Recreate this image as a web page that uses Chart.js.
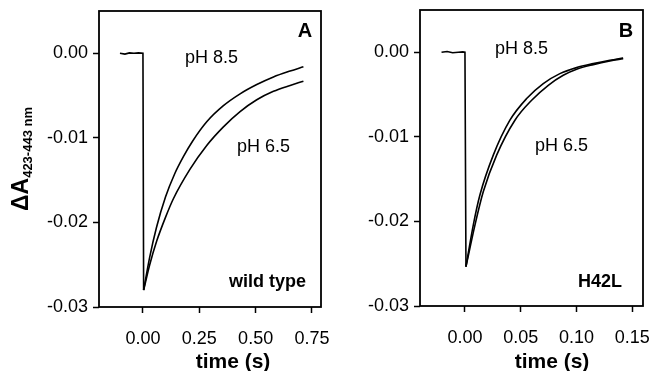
<!DOCTYPE html>
<html>
<head>
<meta charset="utf-8">
<script src="https://cdn.jsdelivr.net/npm/chart.js@4.4.0/dist/chart.umd.min.js"></script>
<style>
  html, body { margin: 0; padding: 0; background: #fff; }
  #wrap { position: relative; width: 652px; height: 371px; overflow: hidden; }
  .panel { position: absolute; top: 0; height: 371px; }
  #panelA { left: 0; width: 330px; }
  #panelB { left: 330px; width: 322px; }
</style>
</head>
<body>
<div id="wrap">
  <div class="panel" id="panelA"><canvas id="chartA"></canvas></div>
  <div class="panel" id="panelB"><canvas id="chartB"></canvas></div>
</div>
<script>
// ---- panel A (wild type), time in s ----
const triggerTimeA = [-0.102, -0.08, -0.06, -0.04, -0.02, 0.0, 0.003];
const triggerValA  = [0.0, -0.0001, 0.00005, 0.0, 0.00005, 0.0, -0.028];

const timeA85 = [0.003, 0.030, 0.060, 0.100, 0.140, 0.180, 0.220, 0.283, 0.357, 0.431, 0.505, 0.579, 0.653, 0.712];
const valA85  = [-0.0280, -0.0241, -0.0206, -0.0170, -0.0143, -0.0122, -0.0104, -0.0081, -0.0062, -0.0048, -0.0037, -0.0028, -0.0021, -0.0016];

const timeA65 = [0.003, 0.030, 0.061, 0.100, 0.135, 0.209, 0.283, 0.357, 0.431, 0.505, 0.579, 0.653, 0.712];
const valA65  = [-0.0280, -0.0250, -0.0222, -0.0194, -0.0172, -0.0137, -0.0109, -0.0087, -0.0069, -0.0055, -0.0045, -0.0038, -0.0033];

const xTicksA = [0, 0.25, 0.5, 0.75];

// ---- panel B (H42L) ----
const triggerTimeB = [-0.021, -0.016, -0.011, -0.006, -0.002, 0.0, 0.0009];
const triggerValB  = [0.0, 0.0001, -0.00005, 0.0, 0.00005, 0.0, -0.02535];

const timeB85 = [0.0009, 0.0075, 0.0134, 0.0254, 0.0403, 0.0553, 0.0702, 0.0851, 0.1001, 0.1150, 0.1299, 0.1418];
const valB85  = [-0.02535, -0.0204, -0.01688, -0.01216, -0.00803, -0.00547, -0.0037, -0.00252, -0.00181, -0.00134, -0.00094, -0.00067];

const timeB65 = [0.0009, 0.0090, 0.0164, 0.0284, 0.0448, 0.0598, 0.0747, 0.0881, 0.1001, 0.1150, 0.1299, 0.1418];
const valB65  = [-0.02535, -0.0204, -0.0165, -0.01216, -0.00803, -0.00567, -0.0039, -0.00272, -0.00201, -0.00146, -0.00102, -0.00075];

const xTicksB = [0, 0.05, 0.1, 0.15];
const yTicks = [0, -0.01, -0.02, -0.03];

const FONT = "'Liberation Sans', Arial, Helvetica, sans-serif";

function pts(xs, ys) {
  return xs.map((x, i) => ({ x: x, y: ys[i] }));
}

function lineSet(xs, ys, smooth) {
  return {
    data: pts(xs, ys),
    borderColor: "#000",
    borderWidth: 1.6,
    pointRadius: 0,
    fill: false,
    tension: 0,
    cubicInterpolationMode: smooth ? "monotone" : "default",
  };
}

// frame, annotations and the axis titles (y title has a subscript)
const panelDecor = {
  id: "panelDecor",
  afterDraw(chart, args, opts) {
    const ctx = chart.ctx;
    const a = chart.chartArea;
    const xs = chart.scales.x;
    const ys = chart.scales.y;
    ctx.save();
    ctx.strokeStyle = "#000";
    ctx.lineWidth = 1.8;
    ctx.strokeRect(a.left, a.top, a.right - a.left, a.bottom - a.top);

    ctx.fillStyle = "#000";
    ctx.textBaseline = "alphabetic";
    (opts.notes || []).forEach(n => {
      ctx.font = n.font + " " + FONT;
      ctx.textAlign = n.align;
      ctx.fillText(n.text, xs.getPixelForValue(n.x), ys.getPixelForValue(n.y));
    });

    // x title
    ctx.font = "bold 21px " + FONT;
    ctx.textAlign = "center";
    ctx.fillText("time (s)", opts.xTitleX, 368);

    if (opts.yTitle) {
      const cy = (a.top + a.bottom) / 2;
      ctx.translate(28, cy);
      ctx.rotate(-Math.PI / 2);
      ctx.textAlign = "left";
      ctx.font = "bold 23px " + FONT;
      const w1 = ctx.measureText("\u0394A").width;
      ctx.font = "bold 13px " + FONT;
      const w2 = ctx.measureText("423-443 nm").width;
      const start = -(w1 + w2) / 2;
      ctx.font = "bold 23px " + FONT;
      ctx.fillText("\u0394A", start, 0);
      ctx.font = "bold 13px " + FONT;
      ctx.fillText("423-443 nm", start + w1, 4);
    }
    ctx.restore();
  }
};

function makeChart(id, cfg) {
  return new Chart(document.getElementById(id), {
    type: "line",
    data: { datasets: cfg.datasets },
    plugins: [panelDecor],
    options: {
      responsive: true,
      maintainAspectRatio: false,
      animation: false,
      layout: { padding: { top: cfg.padTop, right: 9, left: 0, bottom: 0 } },
      plugins: {
        legend: { display: false },
        tooltip: { enabled: false },
        panelDecor: { notes: cfg.notes, xTitleX: cfg.xTitleX, yTitle: cfg.yTitle },
      },
      scales: {
        x: {
          type: "linear",
          min: cfg.xMin,
          max: cfg.xMax,
          afterBuildTicks: s => { s.ticks = cfg.xTicks.map(v => ({ value: v })); },
          afterFit: s => { s.height = cfg.xHeight; s.paddingLeft = 0; s.paddingRight = 0; },
          border: { display: false },
          grid: { drawOnChartArea: false, drawTicks: true, tickLength: 6, tickColor: "#000", tickWidth: 1.5 },
          ticks: {
            color: "#000",
            font: { family: FONT, size: 18 },
            padding: 15,
            maxRotation: 0,
            callback: v => v.toFixed(2),
          },
        },
        y: {
          type: "linear",
          min: -0.03,
          max: 0.005,
          afterBuildTicks: s => { s.ticks = yTicks.map(v => ({ value: v })); },
          afterFit: s => { s.width = cfg.yWidth; s.paddingTop = 0; s.paddingBottom = 0; },
          border: { display: false },
          grid: { drawOnChartArea: false, drawTicks: true, tickLength: 6, tickColor: "#000", tickWidth: 1.5 },
          ticks: {
            color: "#000",
            font: { family: FONT, size: 18 },
            padding: 5,
            callback: v => v.toFixed(2),
          },
        },
      },
    },
  });
}

makeChart("chartA", {
  datasets: [
    lineSet(triggerTimeA, triggerValA, false),
    lineSet(timeA85, valA85, true),
    lineSet(timeA65, valA65, true),
  ],
  xMin: -0.195, xMax: 0.79, xTicks: xTicksA,
  yWidth: 99, xHeight: 64, padTop: 11,
  xTitleX: 233, yTitle: true,
  notes: [
    { text: "A", x: 0.719, y: 0.0019, font: "bold 20px", align: "center" },
    { text: "pH 8.5", x: 0.187, y: -0.0011, font: "18px", align: "left" },
    { text: "pH 6.5", x: 0.417, y: -0.01165, font: "18px", align: "left" },
    { text: "wild type", x: 0.724, y: -0.0276, font: "bold 18px", align: "right" },
  ],
});

makeChart("chartB", {
  datasets: [
    lineSet(triggerTimeB, triggerValB, false),
    lineSet(timeB85, valB85, true),
    lineSet(timeB65, valB65, true),
  ],
  xMin: -0.0403, xMax: 0.1596, xTicks: xTicksB,
  yWidth: 90, xHeight: 65, padTop: 10,
  xTitleX: 222, yTitle: false,
  notes: [
    { text: "B", x: 0.1443, y: 0.00177, font: "bold 20px", align: "center" },
    { text: "pH 8.5", x: 0.0269, y: -0.00024, font: "18px", align: "left" },
    { text: "pH 6.5", x: 0.0627, y: -0.0117, font: "18px", align: "left" },
    { text: "H42L", x: 0.1407, y: -0.0277, font: "bold 18px", align: "right" },
  ],
});
</script>
</body>
</html>
